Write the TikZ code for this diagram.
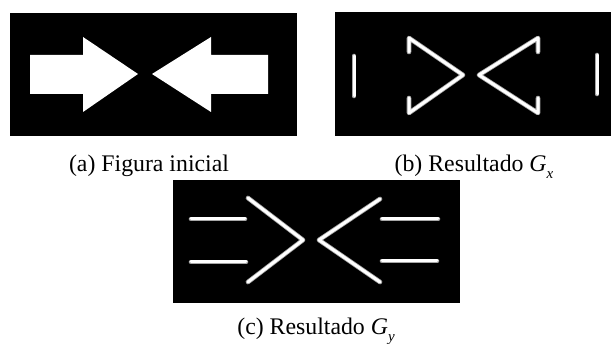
\documentclass[tikz,border=0pt]{standalone}
\usepackage{fontspec}
\setmainfont{Liberation Serif}
\begin{document}
\begin{tikzpicture}[x=1pt,y=-1pt,
  panel/.style={fill=black,draw=none},
  solid shape/.style={fill=white,draw=none},
  edgeglow/.style={draw=gray!70,line width=4.6pt,line cap=round,line join=round},
  edgeline/.style={draw=white,line width=3pt,line cap=round,line join=round},
  caption/.style={anchor=base,inner sep=0pt,font=\fontsize{23.8}{28}\selectfont}]
\useasboundingbox (0,0) rectangle (611,344);

% (a) the two arrows pointing at each other
\fill[panel] (10,13) rectangle (297,136);
\fill[solid shape] (30,55) -- (83,55) -- (83,37) -- (138,74) -- (83,112)
  -- (83,94) -- (30,94) -- cycle;
\fill[solid shape] (268,55) -- (211,55) -- (211,37) -- (152,74) -- (211,112)
  -- (211,94) -- (268,94) -- cycle;
\node[caption] (capa) at (149,172) {(a) Figura inicial};

% (b) horizontal gradient: vertical edges only
\fill[panel] (335,12) rectangle (611,136);
\foreach \s in {edgeglow,edgeline}{
  \draw[\s] (354,56) -- (354,96);
  \draw[\s] (597,55) -- (597,94);
  \draw[\s] (409,52) -- (409,38) -- (463,75) -- (409,113) -- (409,98);
  \draw[\s] (538,52) -- (538,38) -- (479,75) -- (538,113) -- (538,98);
}
\node[caption] (capb) at (474,172) {(b) Resultado \textit{G}\raisebox{-0.28em}{\fontsize{15}{15}\selectfont\itshape x}};

% (c) vertical gradient: horizontal and slanted edges
\fill[panel] (173,180) rectangle (460,303);
\foreach \s in {edgeglow,edgeline}{
  \draw[\s] (191,219) -- (245,219);
  \draw[\s] (191,262) -- (246,262);
  \draw[\s] (248,198) -- (303,240) -- (248,282);
  \draw[\s] (380,199) -- (319,240) -- (380,282);
  \draw[\s] (382,219) -- (438,219);
  \draw[\s] (382,261) -- (437,261);
}
\node[caption] (capc) at (316,335) {(c) Resultado \textit{G}\raisebox{-0.28em}{\fontsize{15}{15}\selectfont\itshape y}};
\end{tikzpicture}
\end{document}
